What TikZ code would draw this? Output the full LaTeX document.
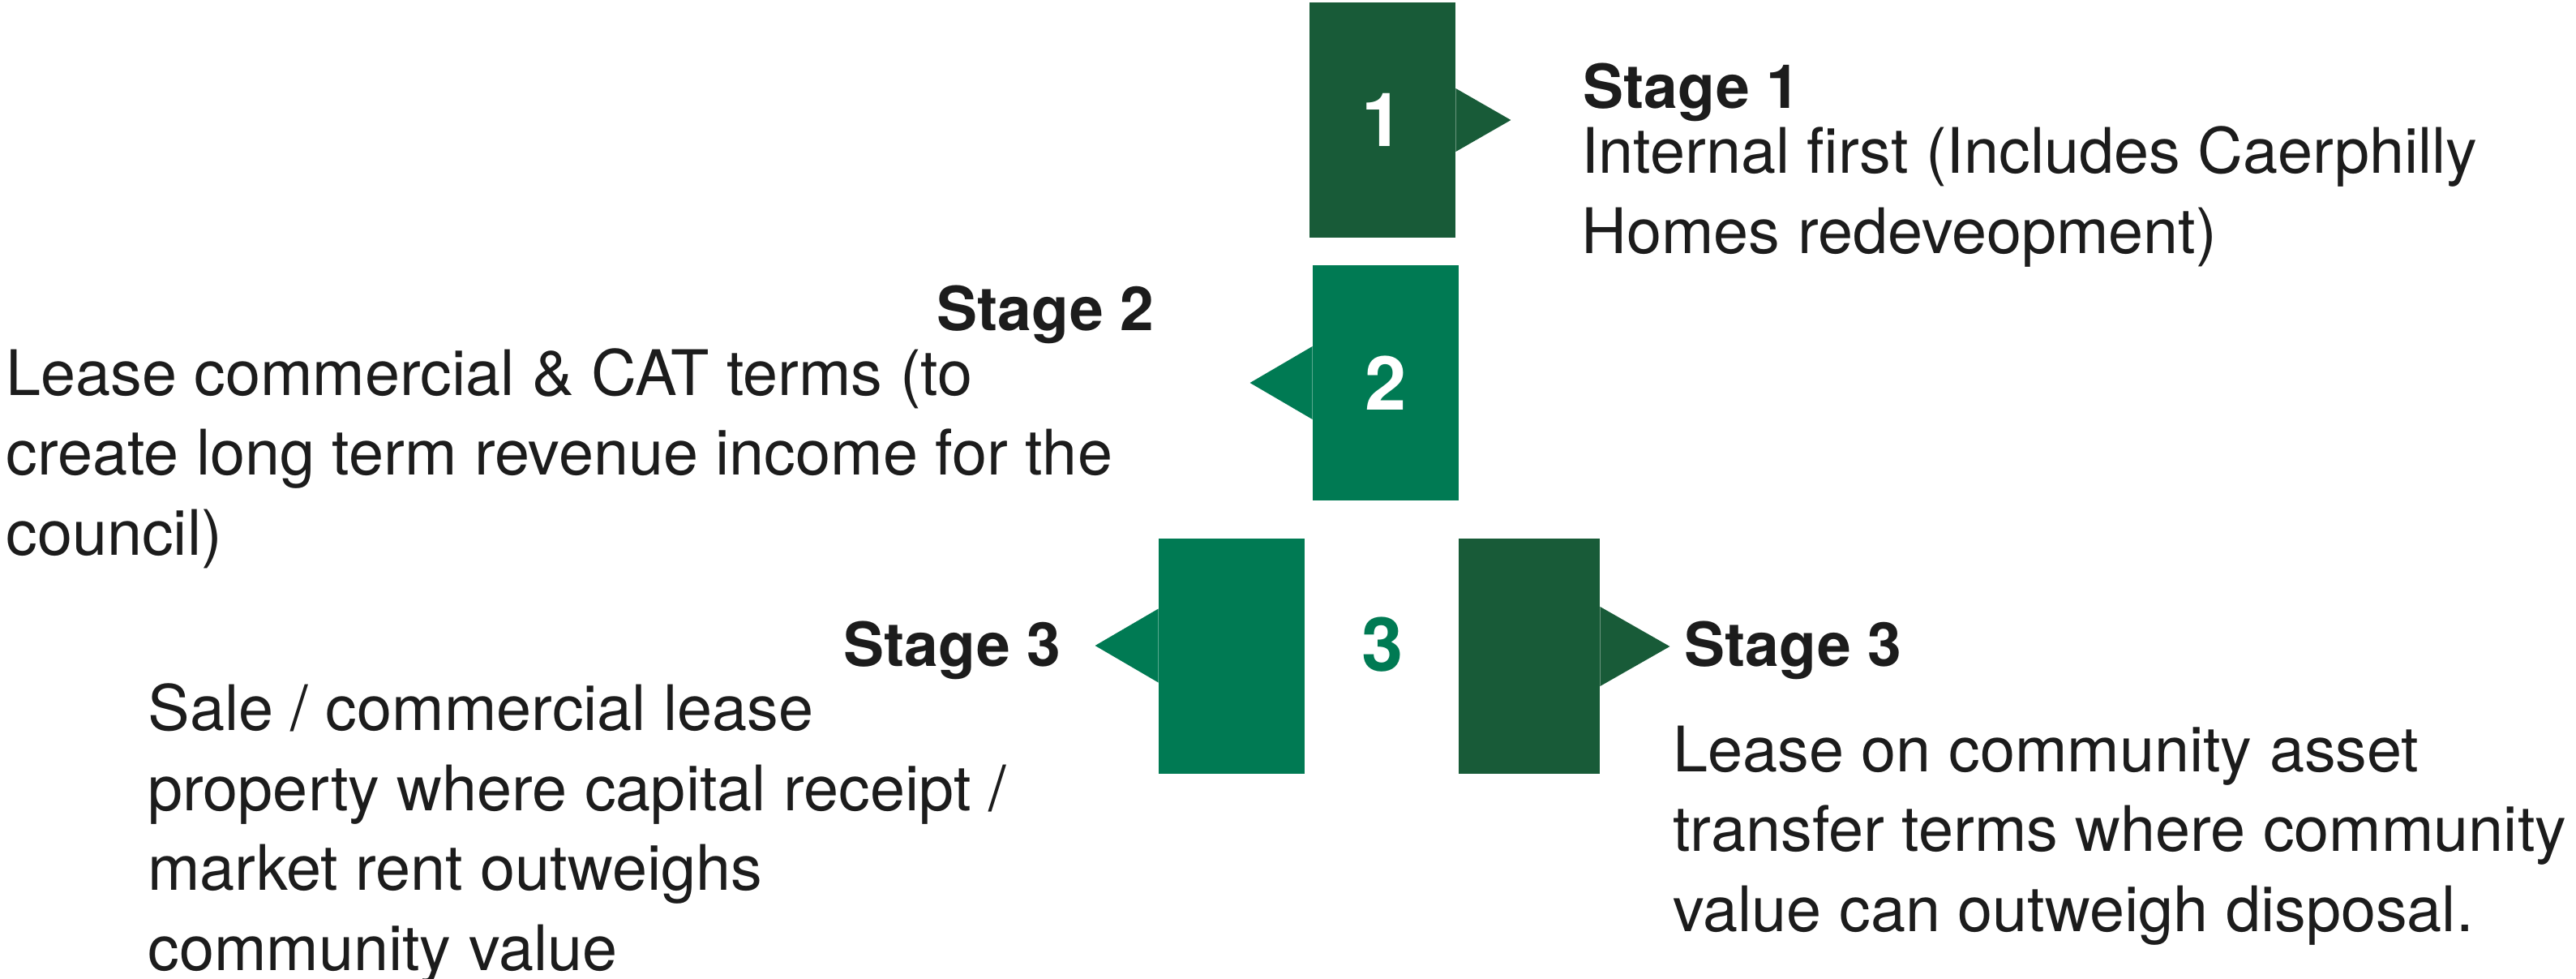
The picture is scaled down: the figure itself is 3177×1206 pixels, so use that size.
\documentclass[tikz,border=0pt]{standalone}
\usepackage{fontspec}
\setmainfont{TeX Gyre Heros}
\usepackage{tikz}
\usetikzlibrary{calc}
\definecolor{dkgreen}{HTML}{185B38}
\definecolor{ltgreen}{HTML}{007A53}
\definecolor{ink}{HTML}{1C1C1C}
\begin{document}
\begin{tikzpicture}[x=0.5pt,y=-0.5pt,
  stagebox/.style={fill=#1,minimum width=90pt,minimum height=145pt,inner sep=0pt,
    text=white,font=\fontsize{46}{46}\selectfont\bfseries},
  numlabel/.style={inner sep=0pt,text=ltgreen,font=\fontsize{46}{46}\selectfont\bfseries},
  stagehead/.style={anchor=base west,inner sep=0pt,text=ink,font=\fontsize{37.5}{44}\selectfont\bfseries},
  stagetext/.style={anchor=base west,inner sep=0pt,align=left,text=ink,font=\fontsize{38.7}{49.2}\selectfont}]
\useasboundingbox (0,0) rectangle (3177,1206);
\node[stagebox=dkgreen] (box1) at (1705,148) {1};
\node[stagebox=ltgreen] (box2) at (1709,472) {2};
\node[stagebox=ltgreen] (box3l) at (1519,809) {};
\node[stagebox=dkgreen,minimum width=87pt] (box3r) at (1886,809) {};
\node[numlabel] (num3) at (1705,795) {3};

\fill[dkgreen] ($(box1.east)+(0,-39)$) -- ++(68,39) -- ++(-68,39) -- cycle;
\fill[ltgreen] ($(box2.west)+(0,-45)$) -- ++(-77,45) -- ++(77,45) -- cycle;
\fill[ltgreen] ($(box3l.west)+(0,-58.5)$) -- ++(-78,45.5) -- ++(78,45.5) -- cycle;
\fill[dkgreen] ($(box3r.east)+(0,-61)$) -- ++(86,49) -- ++(-86,49) -- cycle;

\node[stagehead] (head1) at (1952,133) {Stage 1};
\node[stagetext] (text1) at (1950,312) {Internal first (Includes Caerphilly\\Homes redeveopment)};
\node[stagehead] (head2) at (1155,407) {Stage 2};
\node[stagetext] (text2) at (7,684) {Lease commercial \& CAT terms (to\\create long term revenue income for the\\council)};
\node[stagehead] (head3l) at (1040,821) {Stage 3};
\node[stagetext] (text3l) at (182,1196) {Sale / commercial lease\\property where capital receipt /\\market rent outweighs\\community value};
\node[stagehead] (head3r) at (2077,821) {Stage 3};
\node[stagetext] (text3r) at (2063,1148) {Lease on community asset\\transfer terms where community\\value can outweigh disposal.};
\end{tikzpicture}
\end{document}
